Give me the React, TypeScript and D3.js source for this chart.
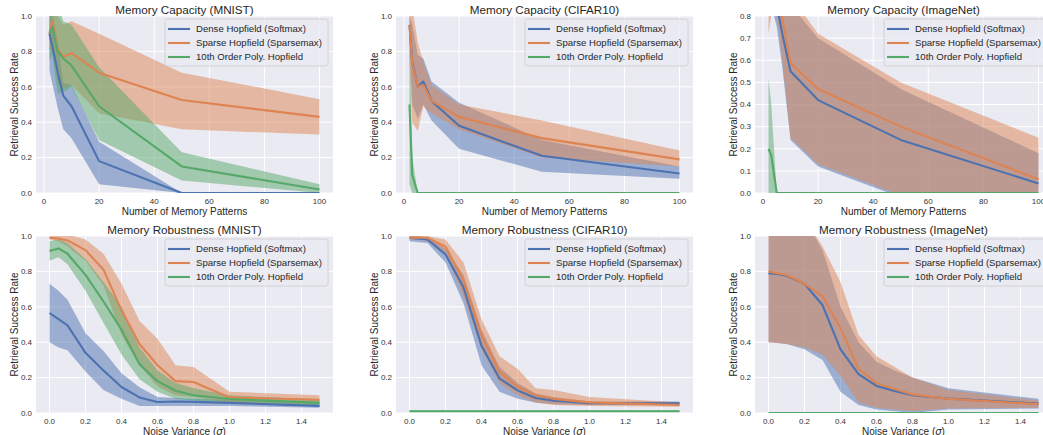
import * as d3 from 'd3'

// x values
const capX = [2, 3, 5, 7, 10, 20, 50, 100]
const noiseX = [0, 0.05, 0.1, 0.2, 0.3, 0.4, 0.5, 0.6, 0.7, 0.8, 1.0, 1.5]

const seriesNames = ['Dense Hopfield (Softmax)', 'Sparse Hopfield (Sparsemax)', '10th Order Poly. Hopfield']
const colors = ['#4C72B0', '#DD8452', '#55A868']

const capTicks = [0, 20, 40, 60, 80, 100]
const noiseTicks = [0, 0.2, 0.4, 0.6, 0.8, 1.0, 1.2, 1.4]
const yTicks10 = [0, 0.2, 0.4, 0.6, 0.8, 1.0]
const yTicks08 = [0, 0.1, 0.2, 0.3, 0.4, 0.5, 0.6, 0.7, 0.8]

// Memory capacity - MNIST
const capMnistDense = [0.9, 0.83, 0.68, 0.55, 0.49, 0.18, 0.0, 0.0]
const capMnistDenseLo = [0.69, 0.62, 0.48, 0.36, 0.31, 0.05, 0.0, 0.0]
const capMnistDenseHi = [1.05, 1.02, 0.85, 0.62, 0.61, 0.29, 0.0, 0.0]
const capMnistSparse = [0.9, 0.97, 0.81, 0.77, 0.79, 0.68, 0.525, 0.43]
const capMnistSparseLo = [0.8, 0.84, 0.62, 0.59, 0.61, 0.45, 0.36, 0.33]
const capMnistSparseHi = [1.0, 1.1, 1.0, 0.95, 0.97, 0.9, 0.68, 0.53]
const capMnistPoly = [0.9, 0.94, 0.8, 0.76, 0.72, 0.49, 0.15, 0.02]
const capMnistPolyLo = [0.75, 0.78, 0.56, 0.57, 0.6, 0.3, 0.07, 0.0]
const capMnistPolyHi = [1.05, 1.1, 1.08, 0.97, 0.95, 0.71, 0.23, 0.05]

// Memory capacity - CIFAR10
const capCifarDense = [0.95, 0.74, 0.6, 0.63, 0.52, 0.38, 0.21, 0.11]
const capCifarDenseLo = [0.85, 0.5, 0.42, 0.5, 0.41, 0.25, 0.12, 0.08]
const capCifarDenseHi = [1.0, 0.95, 0.78, 0.76, 0.63, 0.51, 0.3, 0.15]
const capCifarSparse = [0.95, 0.73, 0.6, 0.61, 0.52, 0.43, 0.31, 0.19]
const capCifarSparseLo = [0.75, 0.4, 0.35, 0.49, 0.45, 0.36, 0.2, 0.15]
const capCifarSparseHi = [1.1, 1.05, 0.85, 0.74, 0.61, 0.5, 0.41, 0.24]
const capCifarPoly = [0.5, 0.1, 0, 0, 0, 0, 0, 0]
const capCifarPolyLo = [0.05, 0, 0, 0, 0, 0, 0, 0]
const capCifarPolyHi = [0.95, 0.2, 0, 0, 0, 0, 0, 0]

// Memory capacity - ImageNet
const capImgDense = [0.95, 0.93, 0.85, 0.72, 0.55, 0.42, 0.24, 0.043]
const capImgDenseLo = [0.9, 0.85, 0.75, 0.57, 0.24, 0.12, -0.02, -0.02]
const capImgDenseHi = [1.1, 1.1, 1.0, 0.9, 0.85, 0.7, 0.47, 0.18]
const capImgSparse = [0.98, 0.97, 0.92, 0.79, 0.588, 0.47, 0.3, 0.062]
const capImgSparseLo = [0.72, 0.8, 0.82, 0.6, 0.25, 0.13, -0.01, -0.02]
const capImgSparseHi = [1.2, 1.2, 1.1, 1.0, 0.89, 0.72, 0.5, 0.25]
const capImgPoly = [0.2, 0.17, 0, 0, 0, 0, 0, 0]
const capImgPolyLo = [-0.1, -0.05, 0, 0, 0, 0, 0, 0]
const capImgPolyHi = [0.52, 0.4, 0, 0, 0, 0, 0, 0]

// Memory robustness - MNIST
const robMnistDense = [0.565, 0.53, 0.495, 0.34, 0.24, 0.147, 0.088, 0.062, 0.065, 0.063, 0.057, 0.04]
const robMnistDenseLo = [0.4, 0.37, 0.355, 0.235, 0.13, 0.08, 0.04, 0.04, 0.04, 0.04, 0.04, 0.03]
const robMnistDenseHi = [0.73, 0.69, 0.64, 0.45, 0.35, 0.225, 0.145, 0.09, 0.085, 0.08, 0.075, 0.05]
const robMnistSparse = [0.99, 0.985, 0.975, 0.92, 0.81, 0.58, 0.39, 0.27, 0.18, 0.175, 0.088, 0.075]
const robMnistSparseLo = [0.98, 0.97, 0.94, 0.86, 0.72, 0.44, 0.27, 0.15, 0.1, 0.09, 0.06, 0.05]
const robMnistSparseHi = [1.0, 1.0, 1.01, 0.98, 0.9, 0.73, 0.52, 0.42, 0.27, 0.26, 0.12, 0.1]
const robMnistPoly = [0.915, 0.93, 0.9, 0.78, 0.63, 0.47, 0.276, 0.18, 0.126, 0.1, 0.079, 0.057]
const robMnistPolyLo = [0.86, 0.88, 0.84, 0.69, 0.51, 0.33, 0.19, 0.12, 0.08, 0.07, 0.06, 0.04]
const robMnistPolyHi = [0.97, 0.98, 0.96, 0.87, 0.74, 0.6, 0.37, 0.24, 0.17, 0.14, 0.1, 0.075]

// Memory robustness - CIFAR10
const robCifarDense = [0.99, 0.985, 0.98, 0.896, 0.71, 0.38, 0.195, 0.128, 0.085, 0.07, 0.055, 0.055]
const robCifarDenseLo = [0.97, 0.965, 0.96, 0.85, 0.62, 0.27, 0.12, 0.08, 0.06, 0.05, 0.045, 0.045]
const robCifarDenseHi = [1.0, 1.0, 0.99, 0.93, 0.78, 0.47, 0.26, 0.17, 0.11, 0.09, 0.065, 0.065]
const robCifarSparse = [0.99, 0.99, 0.99, 0.94, 0.75, 0.44, 0.232, 0.15, 0.1, 0.08, 0.06, 0.045]
const robCifarSparseLo = [0.98, 0.98, 0.97, 0.9, 0.66, 0.36, 0.17, 0.1, 0.06, 0.045, 0.04, 0.035]
const robCifarSparseHi = [1.0, 1.0, 1.0, 0.98, 0.85, 0.53, 0.32, 0.25, 0.14, 0.13, 0.09, 0.06]
const robCifarPoly = [0.01, 0.01, 0.01, 0.01, 0.01, 0.01, 0.01, 0.01, 0.01, 0.01, 0.01, 0.01]
const robCifarPolyLo = [0.005, 0.005, 0.005, 0.005, 0.005, 0.005, 0.005, 0.005, 0.005, 0.005, 0.005, 0.005]
const robCifarPolyHi = [0.015, 0.015, 0.015, 0.015, 0.015, 0.015, 0.015, 0.015, 0.015, 0.015, 0.015, 0.015]

// Memory robustness - ImageNet
const robImgDense = [0.79, 0.785, 0.775, 0.73, 0.61, 0.36, 0.22, 0.153, 0.125, 0.1, 0.081, 0.053]
const robImgDenseLo = [0.4, 0.395, 0.39, 0.36, 0.3, 0.12, 0.045, 0.02, 0.01, 0.0, 0.02, 0.025]
const robImgDenseHi = [1.2, 1.2, 1.2, 1.1, 0.92, 0.6, 0.4, 0.29, 0.24, 0.2, 0.14, 0.08]
const robImgSparse = [0.8, 0.79, 0.78, 0.73, 0.66, 0.48, 0.25, 0.17, 0.135, 0.105, 0.08, 0.05]
const robImgSparseLo = [0.4, 0.395, 0.39, 0.37, 0.33, 0.21, 0.06, 0.03, 0.02, 0.01, 0.025, 0.03]
const robImgSparseHi = [1.2, 1.2, 1.2, 1.1, 0.94, 0.74, 0.44, 0.32, 0.26, 0.2, 0.13, 0.07]
const robImgPoly = [0, 0, 0, 0, 0, 0, 0, 0, 0, 0, 0, 0]
const robImgPolyLo = [0, 0, 0, 0, 0, 0, 0, 0, 0, 0, 0, 0]
const robImgPolyHi = [0, 0, 0, 0, 0, 0, 0, 0, 0, 0, 0, 0]

const W = 1043
const H = 435
const plotW = 297
const plotH = 177
const font = "'Liberation Sans', Arial, sans-serif"

type Series = { mean: number[]; lo: number[]; hi: number[] }

const mk = (mean: number[], lo: number[], hi: number[]): Series => ({ mean, lo, hi })

const panels = [
  {
    id: 'p0', left: 36, top: 16, title: 'Memory Capacity (MNIST)', kind: 'cap', yMax: 1.0,
    series: [
      mk(capMnistDense, capMnistDenseLo, capMnistDenseHi),
      mk(capMnistSparse, capMnistSparseLo, capMnistSparseHi),
      mk(capMnistPoly, capMnistPolyLo, capMnistPolyHi),
    ],
  },
  {
    id: 'p1', left: 396, top: 16, title: 'Memory Capacity (CIFAR10)', kind: 'cap', yMax: 1.0,
    series: [
      mk(capCifarDense, capCifarDenseLo, capCifarDenseHi),
      mk(capCifarSparse, capCifarSparseLo, capCifarSparseHi),
      mk(capCifarPoly, capCifarPolyLo, capCifarPolyHi),
    ],
  },
  {
    id: 'p2', left: 755, top: 16, title: 'Memory Capacity (ImageNet)', kind: 'cap', yMax: 0.8,
    series: [
      mk(capImgDense, capImgDenseLo, capImgDenseHi),
      mk(capImgSparse, capImgSparseLo, capImgSparseHi),
      mk(capImgPoly, capImgPolyLo, capImgPolyHi),
    ],
  },
  {
    id: 'p3', left: 36, top: 236, title: 'Memory Robustness (MNIST)', kind: 'noise', yMax: 1.0,
    series: [
      mk(robMnistDense, robMnistDenseLo, robMnistDenseHi),
      mk(robMnistSparse, robMnistSparseLo, robMnistSparseHi),
      mk(robMnistPoly, robMnistPolyLo, robMnistPolyHi),
    ],
  },
  {
    id: 'p4', left: 396, top: 236, title: 'Memory Robustness (CIFAR10)', kind: 'noise', yMax: 1.0,
    series: [
      mk(robCifarDense, robCifarDenseLo, robCifarDenseHi),
      mk(robCifarSparse, robCifarSparseLo, robCifarSparseHi),
      mk(robCifarPoly, robCifarPolyLo, robCifarPolyHi),
    ],
  },
  {
    id: 'p5', left: 755, top: 236, title: 'Memory Robustness (ImageNet)', kind: 'noise', yMax: 1.0,
    series: [
      mk(robImgDense, robImgDenseLo, robImgDenseHi),
      mk(robImgSparse, robImgSparseLo, robImgSparseHi),
      mk(robImgPoly, robImgPolyLo, robImgPolyHi),
    ],
  },
]

function Panel({ p }: { p: (typeof panels)[number] }) {
  const isCap = p.kind === 'cap'
  const xs = isCap ? capX : noiseX
  const xMin = d3.min(xs) as number
  const xMax = d3.max(xs) as number
  const pad = (xMax - xMin) * 0.05
  const x = d3.scaleLinear().domain([xMin - pad, xMax + pad]).range([0, plotW])
  const y = d3.scaleLinear().domain([0, p.yMax]).range([plotH, 0])
  const xTicks = isCap ? capTicks : noiseTicks
  const yTicks = p.yMax === 1.0 ? yTicks10 : yTicks08
  const xFmt = isCap ? d3.format('d') : d3.format('.1f')
  const yFmt = d3.format('.1f')

  const legX = plotW - 5 - 163
  const legY = 3

  return (
    <g transform={`translate(${p.left},${p.top})`}>
      <defs>
        <clipPath id={`clip-${p.id}`}>
          <rect width={plotW} height={plotH} />
        </clipPath>
      </defs>
      <rect width={plotW} height={plotH} fill="#EAEAF2" />
      {xTicks.map(t => (
        <line key={'gx' + t} x1={x(t)} x2={x(t)} y1={0} y2={plotH} stroke="#fff" strokeWidth={1} />
      ))}
      {yTicks.map(t => (
        <line key={'gy' + t} x1={0} x2={plotW} y1={y(t)} y2={y(t)} stroke="#fff" strokeWidth={1} />
      ))}
      <g clipPath={`url(#clip-${p.id})`}>
        {p.series.map((s, k) => {
          const band = d3
            .area<number>()
            .x((_, i) => x(xs[i]))
            .y0((_, i) => y(s.lo[i]))
            .y1((_, i) => y(s.hi[i]))
          return <path key={'b' + k} d={band(s.mean) || ''} fill={colors[k]} fillOpacity={0.5} />
        })}
        {p.series.map((s, k) => {
          const line = d3
            .line<number>()
            .x((_, i) => x(xs[i]))
            .y(d => y(d))
          return (
            <path
              key={'l' + k}
              d={line(s.mean) || ''}
              fill="none"
              stroke={colors[k]}
              strokeWidth={2.1}
              strokeLinejoin="round"
            />
          )
        })}
      </g>
      {xTicks.map(t => (
        <text key={'tx' + t} x={x(t)} y={plotH + 10.5} textAnchor="middle" fontSize={8} fill="#333">
          {xFmt(t)}
        </text>
      ))}
      {yTicks.map(t => (
        <text key={'ty' + t} x={-4} y={y(t)} dy="0.35em" textAnchor="end" fontSize={8} fill="#333">
          {yFmt(t)}
        </text>
      ))}
      <text x={plotW / 2} y={-2.5} textAnchor="middle" fontSize={11.7} fill="#262626">
        {p.title}
      </text>
      <text x={plotW / 2} y={plotH + 21.5} textAnchor="middle" fontSize={10} fill="#262626">
        {isCap ? (
          'Number of Memory Patterns'
        ) : (
          <>
            {'Noise Variance ('}
            <tspan fontStyle="italic" fontFamily="'DejaVu Sans', sans-serif">σ</tspan>
            {')'}
          </>
        )}
      </text>
      <text
        transform={`translate(-22,${plotH / 2}) rotate(-90)`}
        textAnchor="middle"
        dy="0.35em"
        fontSize={10}
        fill="#262626"
      >
        Retrieval Success Rate
      </text>
      <g transform={`translate(${legX},${legY})`}>
        <rect width={163} height={47} rx={2.5} fill="#EAEAF2" fillOpacity={0.8} stroke="#CCCCCC" strokeWidth={0.8} />
        {seriesNames.map((n, k) => (
          <g key={n} transform={`translate(0,${10 + k * 14})`}>
            <line x1={3} x2={25} y1={0} y2={0} stroke={colors[k]} strokeWidth={2.1} />
            <text x={31} y={0} dy="0.35em" fontSize={9.6} fill="#262626">
              {n}
            </text>
          </g>
        ))}
      </g>
    </g>
  )
}

export default function App() {
  return (
    <svg
      width={W}
      height={H}
      style={{ position: 'absolute', left: 0, top: 0, background: '#fff', fontFamily: font }}
    >
      {panels.map(p => (
        <Panel key={p.id} p={p} />
      ))}
    </svg>
  )
}
